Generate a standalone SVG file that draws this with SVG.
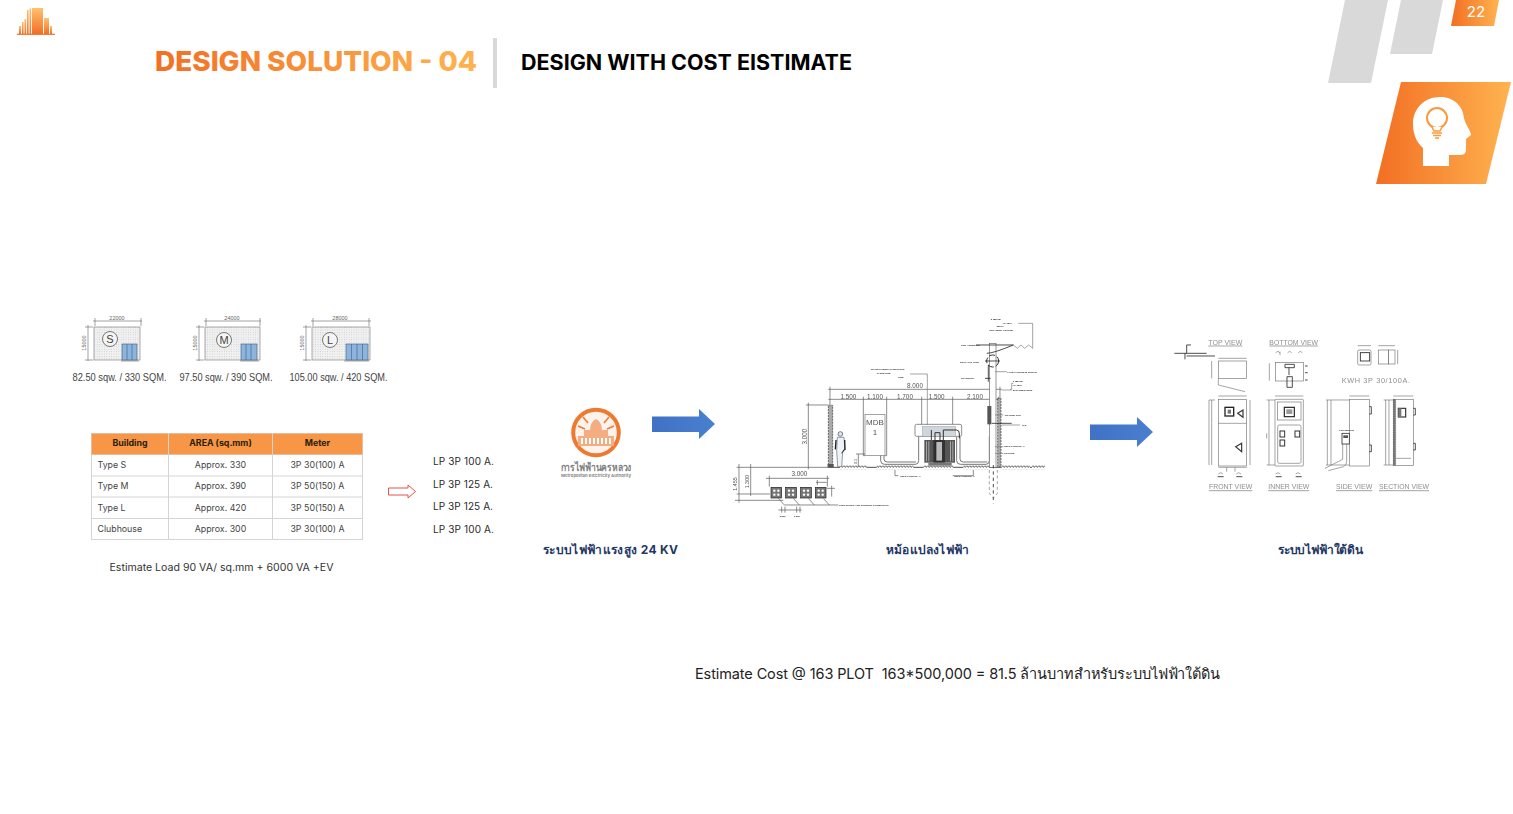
<svg xmlns="http://www.w3.org/2000/svg" width="1513" height="814" viewBox="0 0 1513 814">
<style>
text{font-family:Inter,"Noto Sans","Noto Sans CJK SC",sans-serif;white-space:pre}
.lp{font-size:10px;fill:#2a2a2a}
.tb{font-size:8.800px;fill:#444}
.th{font-size:8.800px;font-weight:700;fill:#2a2008}
.cap{font-size:12px;font-weight:700;fill:#1f3864;text-anchor:middle}
.mid{text-anchor:middle}
.plan{font-family:"Liberation Sans",sans-serif;font-size:11px;fill:#444}
.dim{font-family:"Liberation Sans",sans-serif;font-size:5.500px;fill:#666;text-anchor:middle}
.ln{fill:none;stroke:#666;stroke-width:.6}
.d{fill:none;stroke:#555;stroke-width:2}
.k{fill:none;stroke:#222;stroke-width:2.400}
.g{fill:none;stroke:#777;stroke-width:2}
.dt{font-family:"Liberation Sans",sans-serif;font-size:19px;fill:#555;text-anchor:middle}
.dk{font-family:"Liberation Sans",sans-serif;font-size:7px;font-weight:700;fill:#222}
.v{font-family:"Liberation Sans",sans-serif;font-size:22px;fill:#8e8e8e}
.cell{fill:#fff;stroke:#d4d4d4;stroke-width:1}
</style>
<defs>
<linearGradient id="go" x1="0" x2="1" y1="0" y2="0"><stop offset="0" stop-color="#f26f23"/><stop offset="1" stop-color="#ffb350"/></linearGradient>
<linearGradient id="gv" x1="0" x2="0" y1="1" y2="0"><stop offset="0" stop-color="#f26f23"/><stop offset="1" stop-color="#ffc070"/></linearGradient>
<linearGradient id="gt" gradientUnits="userSpaceOnUse" x1="155" x2="477" y1="0" y2="0"><stop offset="0" stop-color="#f26f23"/><stop offset="1" stop-color="#ffb350"/></linearGradient>
<linearGradient id="gb" x1="0" x2="1" y1="0" y2="0"><stop offset="0" stop-color="#3f72c4"/><stop offset="1" stop-color="#4a7fd0"/></linearGradient>
<pattern id="dots" width="2.400" height="2.400" patternUnits="userSpaceOnUse"><rect width="2.400" height="2.400" fill="#f1f1f1"/><circle cx="1.200" cy="1.200" r=".5" fill="#c4c8cc"/></pattern>
<pattern id="hatch" width="9" height="14" patternUnits="userSpaceOnUse"><path d="M0 4 L4 10 L9 4" fill="none" stroke="#333" stroke-width="2.500"/></pattern>
<filter id="soft" x="-5%" y="-5%" width="110%" height="110%"><feGaussianBlur stdDeviation=".35"/></filter>
<g id="box4"><rect width="32" height="32" fill="#777" stroke="#222" stroke-width="2"/><g fill="#fff"><circle cx="10" cy="10" r="3.600"/><circle cx="22" cy="10" r="3.600"/><circle cx="10" cy="22" r="3.600"/><circle cx="22" cy="22" r="3.600"/></g></g>
</defs>

<g id="logo">
<rect x="17" y="33.700" width="38" height="1.200" fill="#f26f23"/>
<g fill="url(#gv)">
<rect x="19" y="26" width="2" height="8"/><rect x="22" y="22" width="1.600" height="12"/><rect x="24.500" y="19" width="1.600" height="15"/><rect x="27" y="10" width="1.600" height="24"/><rect x="29.500" y="8.500" width="1.600" height="25.500"/><rect x="32" y="8" width="11" height="26"/><rect x="44" y="18" width="5" height="16"/><rect x="50" y="26" width="2" height="8"/>
</g>
</g>

<g id="header">
<text x="155" y="70.500" font-size="27.500" font-weight="800" fill="url(#gt)" textLength="322" lengthAdjust="spacingAndGlyphs">DESIGN SOLUTION - 04</text>
<rect x="493" y="38" width="4" height="50" fill="#d9d9d9"/>
<text x="521" y="69.500" font-size="21" font-weight="700" fill="#000" textLength="331" lengthAdjust="spacingAndGlyphs">DESIGN WITH COST EISTIMATE</text>
</g>

<g id="corner">
<polygon points="1345,0 1388,0 1371,83 1328,83" fill="#d9d9d9"/>
<polygon points="1401,0 1443,0 1432,54 1390,54" fill="#d9d9d9"/>
<polygon points="1456,0 1499,0 1494,26 1451,26" fill="url(#go)"/>
<text x="1476" y="17" font-size="15" fill="#fff" class="mid">22</text>
<polygon points="1401,82 1511,82 1486,184 1376,184" fill="url(#go)"/>
<path d="M1423 166V148C1416 142 1413 133 1413 124C1413 108 1425 97 1440 97C1455 97 1463 107 1464 118C1465 124 1471 131 1471 135L1466 139V150Q1466 155 1460 155H1449V166Z" fill="#fff"/>
<circle cx="1437" cy="118" r="10" fill="none" stroke="#fa9a3f" stroke-width="2"/>
<path d="M1432 127L1434 131H1440L1442 127" fill="#fff" stroke="#fa9a3f" stroke-width="1.500"/>
<path d="M1432 133H1442M1433 135.500H1441M1435 138H1439" stroke="#fa9a3f" stroke-width="1.500"/>
</g>

<g id="plan-s">
<rect x="94" y="327" width="46" height="33" fill="url(#dots)" stroke="#888" stroke-width=".7"/>
<path class="ln" d="M93 321H142M95 318V326M141 318V326M88 325V361M85 327H93M85 360H93M121 361H139"/>
<rect x="122" y="344" width="15" height="16" fill="#8db4dc" stroke="#4a6a8a" stroke-width=".7"/><path d="M127 344V360M132 344V360" stroke="#4a6a8a" stroke-width=".7"/>
<circle cx="110" cy="339" r="7.500" fill="#f4f4f4" stroke="#444" stroke-width=".7"/>
<text x="110" y="343" class="plan mid">S</text>
<text x="117" y="320" class="dim">22000</text><text class="dim" transform="translate(86 343) rotate(-90)">15000</text>
<text x="72.500" y="380.500" class="plan" textLength="94" lengthAdjust="spacingAndGlyphs">82.50 sqw. / 330 SQM.</text>
</g>
<g id="plan-m">
<rect x="205" y="327" width="55" height="33" fill="url(#dots)" stroke="#888" stroke-width=".7"/>
<path class="ln" d="M204 321H261M206 318V326M260 318V326M199 325V361M196 327H204M196 360H204M240 361H259"/>
<rect x="241" y="344" width="16" height="16" fill="#8db4dc" stroke="#4a6a8a" stroke-width=".7"/><path d="M246 344V360M251 344V360" stroke="#4a6a8a" stroke-width=".7"/>
<circle cx="224" cy="340" r="7.500" fill="#f4f4f4" stroke="#444" stroke-width=".7"/>
<text x="224" y="344" class="plan mid">M</text>
<text x="232" y="320" class="dim">24000</text><text class="dim" transform="translate(197 343) rotate(-90)">15000</text>
<text x="179.500" y="380.500" class="plan" textLength="93" lengthAdjust="spacingAndGlyphs">97.50 sqw. / 390 SQM.</text>
</g>
<g id="plan-l">
<rect x="312" y="327" width="58" height="33" fill="url(#dots)" stroke="#888" stroke-width=".7"/>
<path class="ln" d="M311 321H371M313 318V326M369 318V326M306 325V361M303 327H311M303 360H311M344 361H369"/>
<rect x="346" y="344" width="22" height="16" fill="#8db4dc" stroke="#4a6a8a" stroke-width=".7"/><path d="M351.500 344V360M357 344V360M362.500 344V360" stroke="#4a6a8a" stroke-width=".7"/>
<circle cx="330" cy="340" r="7.500" fill="#f4f4f4" stroke="#444" stroke-width=".7"/>
<text x="330" y="344" class="plan mid">L</text>
<text x="340" y="320" class="dim">28000</text><text class="dim" transform="translate(304 343) rotate(-90)">15000</text>
<text x="289.500" y="380.500" class="plan" textLength="98" lengthAdjust="spacingAndGlyphs">105.00 sqw. / 420 SQM.</text>
</g>

<g id="load-table">
<rect x="91.500" y="433.500" width="271" height="106" class="cell"/>
<rect x="91.500" y="433.500" width="271" height="21" fill="#f79646" stroke="#e0c0a0" stroke-width="1"/>
<path d="M91.500 476H362.500M91.500 497H362.500M91.500 518.500H362.500M168.500 433.500V539.500M272.500 433.500V539.500" stroke="#d4d4d4" fill="none"/>
<text x="130" y="446" class="th mid">Building</text><text x="220.500" y="446" class="th mid">AREA (sq.mm)</text><text x="317.500" y="446" class="th mid">Meter</text>
<text x="97.500" y="468" class="tb">Type S</text><text x="220.500" y="468" class="tb mid">Approx. 330</text><text x="317.500" y="468" class="tb mid">3P 30(100) A</text>
<text x="97.500" y="489" class="tb">Type M</text><text x="220.500" y="489" class="tb mid">Approx. 390</text><text x="317.500" y="489" class="tb mid">3P 50(150) A</text>
<text x="97.500" y="510.500" class="tb">Type L</text><text x="220.500" y="510.500" class="tb mid">Approx. 420</text><text x="317.500" y="510.500" class="tb mid">3P 50(150) A</text>
<text x="97.500" y="531.500" class="tb">Clubhouse</text><text x="220.500" y="531.500" class="tb mid">Approx. 300</text><text x="317.500" y="531.500" class="tb mid">3P 30(100) A</text>
<text x="109.500" y="571" font-size="10" fill="#333" textLength="224" lengthAdjust="spacingAndGlyphs">Estimate Load 90 VA/ sq.mm + 6000 VA +EV</text>
</g>

<g id="connectors">
<polygon points="388.500,488 408,488 408,485 415.500,491.500 408,498 408,495 388.500,495" fill="#fff" stroke="#e8504a" stroke-width="1"/>
<polygon points="652,416.500 699,416.500 699,409 715,424 699,439 699,432 652,432" fill="url(#gb)"/>
<polygon points="1090,424.500 1137,424.500 1137,417 1153,432 1137,447 1137,440 1090,440" fill="url(#gb)"/>
</g>

<g id="lp-list">
<text x="433" y="465" class="lp" textLength="61" lengthAdjust="spacing">LP 3P 100 A.</text>
<text x="433" y="488" class="lp" textLength="60" lengthAdjust="spacing">LP 3P 125 A.</text>
<text x="433" y="510" class="lp" textLength="60" lengthAdjust="spacing">LP 3P 125 A.</text>
<text x="433" y="533" class="lp" textLength="61" lengthAdjust="spacing">LP 3P 100 A.</text>
</g>

<g id="mea">
<circle cx="596" cy="432.500" r="22.800" fill="#fdf3ec" stroke="#ee7a30" stroke-width="4"/>
<g fill="#f3ad80"><rect x="578" y="436" width="36" height="10"/><rect x="584" y="430" width="24" height="6"/><path d="M590 430Q590 422 596 419Q602 422 602 430Z"/></g>
<path d="M583 417L588 423M609 417L604 423M578 426L585 429M614 426L607 429" stroke="#ee7a30" stroke-width="1.600"/>
<g fill="#fff"><rect x="581" y="438" width="2" height="6"/><rect x="585" y="438" width="2" height="6"/><rect x="589" y="438" width="2" height="6"/><rect x="593" y="438" width="2" height="6"/><rect x="597" y="438" width="2" height="6"/><rect x="601" y="438" width="2" height="6"/><rect x="605" y="438" width="2" height="6"/><rect x="609" y="438" width="2" height="6"/></g>
<text x="596" y="471" font-size="10.500" font-weight="700" fill="#808080" class="mid" textLength="71" lengthAdjust="spacingAndGlyphs">การไฟฟ้านครหลวง</text>
<text x="596" y="476.500" font-size="3.800" font-weight="700" fill="#888" class="mid" textLength="70" lengthAdjust="spacingAndGlyphs">Metropolitan Electricity Authority</text>
</g>

<g id="transformer-drawing" transform="translate(730 310) scale(.33333)" filter="url(#soft)">
<path d="M295 472H330M410 472H440M550 472H580M670 472H700M780 472H815M900 472H906" class="k"/>
<rect x="330" y="466" width="80" height="14" fill="url(#hatch)"/><rect x="440" y="466" width="110" height="14" fill="url(#hatch)"/><rect x="580" y="466" width="90" height="14" fill="url(#hatch)"/><rect x="700" y="466" width="80" height="14" fill="url(#hatch)"/><rect x="815" y="466" width="85" height="14" fill="url(#hatch)"/><rect x="906" y="466" width="40" height="14" fill="url(#hatch)"/>
<path class="d" d="M20 472H295M295 238H815M300 230V285M810 230V270M295 268H810M400 260V300M470 260V300M575 260V345M668 260V345M805 260V300"/>
<text x="555" y="233" class="dt">8.000</text>
<text x="355" y="266" class="dt">1.500</text><text x="435" y="266" class="dt">1.100</text><text x="525" y="266" class="dt">1.700</text><text x="620" y="266" class="dt">1.500</text><text x="735" y="266" class="dt">2.100</text>
<path class="d" d="M228 285H295M235 278V478"/>
<text class="dt" transform="translate(230 380) rotate(-90)">3.000</text>
<rect x="295" y="285" width="13" height="185" fill="#aaa" stroke="#333" stroke-width="2" stroke-dasharray="6 3"/>
<rect x="292" y="462" width="19" height="10" fill="#555"/>
<rect x="405" y="313" width="60" height="124" fill="#fff" stroke="#777" stroke-width="2"/>
<path class="d" d="M400 300V437H405M470 300V437H465M385 432V470M378 432H405"/>
<text x="435" y="346" class="dt" style="font-size:24px">MDB</text><text x="435" y="376" class="dt" style="font-size:24px">1</text>
<text class="dt" style="font-size:11px" transform="translate(382 454) rotate(-90)">0.5</text>
<g id="person"><circle cx="331" cy="372" r="7" fill="#dde6ee" stroke="#445" stroke-width="2"/><path d="M322 382H342L345 420L338 428L335 470H323L320 420Z" fill="#eef3f8" stroke="#667" stroke-width="2"/><path d="M318 390L316 418M344 390L345 420" stroke="#222" stroke-width="4" fill="none"/><path d="M335 430L343 418" stroke="#222" stroke-width="3"/></g>
<path class="g" style="stroke-width:3px" d="M452 437V452Q452 463 464 463H556Q566 463 566 452V380M462 437V447Q462 456 472 456H558"/>
<path class="g" style="stroke-width:3px" d="M680 380V452Q680 463 692 463H768Q778 463 778 452V380M690 380V447Q690 456 700 456H772"/>
<rect x="555" y="343" width="140" height="36" rx="5" fill="#fff" stroke="#777" stroke-width="2.500"/>
<rect x="577" y="349" width="100" height="30" fill="#cfd6dc" stroke="#888"/>
<path d="M592 225V345M540 192H592V225" class="g"/>
<rect x="583" y="390" width="92" height="68" fill="#555"/>
<g fill="#aaa"><rect x="588" y="394" width="3" height="60"/><rect x="595" y="394" width="3" height="60"/><rect x="660" y="394" width="3" height="60"/><rect x="667" y="394" width="3" height="60"/></g>
<rect x="610" y="390" width="35" height="68" fill="#333"/><rect x="618" y="395" width="19" height="58" fill="#bbb" stroke="#222" stroke-width="2"/>
<rect x="595" y="458" width="70" height="9" fill="#777"/>
<path d="M604 390V360M615 390V368H630V390M640 390V360H680Q688 360 688 372V385" fill="none" stroke="#333" stroke-width="3"/>
<rect x="778" y="100" width="20" height="372" fill="#fff" stroke="#666" stroke-width="2"/>
<rect x="772" y="288" width="12" height="55" fill="#555"/>
<rect x="803" y="265" width="10" height="205" fill="#aaa" stroke="#333" stroke-width="2" stroke-dasharray="6 3"/>
<path class="k" d="M790 465V580" stroke-dasharray="10 9"/>
<path class="g" d="M778 480V550L790 565L802 550V480" stroke-dasharray="9 8"/>
<circle cx="788" cy="153" r="18" fill="none" stroke="#333" stroke-width="3" stroke-dasharray="18 6"/>
<path class="k" d="M765 153H810M738 105H850M770 130Q790 130 850 105M765 205H782M775 165V215"/>
<path class="g" d="M850 105L862 115L873 105L884 115L896 105L908 115M908 40V115M865 40H908M840 238H845V220H850M815 240H845M815 345H870"/>
<path d="M785 340H845" class="k"/>
<path class="g" d="M795 185H830M795 315H820M795 410H820M795 430H820"/>
<text x="782" y="30" class="dk">3-185 SQ.</text><text x="818" y="42" class="dk">HV 15kV</text><text x="800" y="52" class="dk">MESH</text><text x="778" y="62" class="dk">STRANDED GROUND</text>
<text x="693" y="108" class="dk">LINK ARRESTER</text><text x="690" y="160" class="dk">DROP OUT FUSE</text><text x="693" y="208" class="dk">TRANSFER</text>
<text x="832" y="188" class="dk">POLE CONCRETE 12.20 M.</text>
<text x="848" y="217" class="dk">3-185 SQ.</text><text x="848" y="228" class="dk">HV 15kV</text><text x="848" y="244" class="dk">STRANDED WIRE</text>
<text x="824" y="318" class="dk">GROUND ROD</text><text x="876" y="347" class="dk">R=5</text><text x="822" y="411" class="dk">HDPE CONDUIT 4"</text><text x="822" y="432" class="dk">GROUND</text>
<text x="422" y="181" class="dk">TRANSFORMER CONDUCTOR</text><text x="440" y="192" class="dk">CABLE SIZE</text><text x="505" y="205" class="dk">SIZE</text>
<text x="510" y="500" class="dk">HDPE CONDUIT 4"</text><text x="672" y="500" class="dk">HDPE CONDUIT 4"</text>
<path class="d" d="M495 480V497H505M730 480V497H668"/>
<text x="328" y="587" class="dk">ELECTRONIC AND CURRENT CONNECTION</text>
<use href="#box4" x="123" y="532"/><use href="#box4" x="167" y="532"/><use href="#box4" x="212" y="532"/><use href="#box4" x="256" y="532"/>
<path class="d" d="M108 505H298M118 497V530M292 497V530M258 517H290M262 510V525"/>
<text x="208" y="499" class="dt">3.000</text>
<path class="d" d="M20 552H120M15 571H160M27 462V578M62 462V558M290 535H315M305 527V560"/>
<text class="dt" transform="translate(56 515) rotate(-90)" style="font-size:16px">1.300</text>
<text class="dt" transform="translate(20 522) rotate(-90)" style="font-size:16px">1.455</text>
<path class="d" d="M145 565L163 585H325M190 565L208 585M235 565L253 585M280 565L298 585M155 590V608M165 590V608M200 590V608M210 590V608M145 600H215"/>
<text x="149" y="621" class="dk">0.200</text><text x="192" y="621" class="dk">0.200</text>
</g>

<g id="meter-drawing" transform="translate(1165 330) scale(.33333)" filter="url(#soft)">
<text x="130" y="44" class="v" textLength="102" lengthAdjust="spacingAndGlyphs">TOP VIEW</text><path class="g" d="M130 48H232"/>
<text x="313" y="44" class="v" textLength="146" lengthAdjust="spacingAndGlyphs">BOTTOM VIEW</text><path class="g" d="M313 48H459"/>
<text x="530" y="158" class="v" textLength="205" lengthAdjust="spacing">KWH 3P 30/100A.</text>
<text x="132" y="477" class="v" textLength="130" lengthAdjust="spacingAndGlyphs">FRONT VIEW</text><path class="g" d="M132 482H262"/>
<text x="310" y="477" class="v" textLength="123" lengthAdjust="spacingAndGlyphs">INNER VIEW</text><path class="g" d="M310 482H433"/>
<text x="513" y="477" class="v" textLength="109" lengthAdjust="spacingAndGlyphs">SIDE VIEW</text><path class="g" d="M513 482H622"/>
<text x="642" y="477" class="v" textLength="150" lengthAdjust="spacingAndGlyphs">SECTION VIEW</text><path class="g" d="M642 482H792"/>
<path class="k" d="M65 70V45H78M28 70H125M65 78H150M60 70V88"/>
<rect x="160" y="93" width="85" height="52" class="g"/><path class="g" d="M160 165L240 185M160 85H245M140 93V145M160 145V165"/>
<rect x="332" y="98" width="83" height="55" class="g"/><path class="g" d="M332 68Q338 60 345 68M368 68Q374 60 380 68M400 68Q406 60 412 68M345 75V65M313 100V152"/>
<path class="k" d="M360 103H388V113H360ZM372 113V135M366 140H382V172H366ZM420 108H428M420 128H428M420 150H428"/>
<rect x="160" y="208" width="85" height="200" class="g"/>
<path class="g" d="M160 280H245M160 198H245M132 210H150M132 210V405M140 210V280M140 280V405M255 210V405M160 412H245M185 412V425M210 412V425"/>
<rect x="180" y="232" width="26" height="26" fill="none" stroke="#222" stroke-width="4"/><rect x="188" y="239" width="10" height="12" fill="#777"/>
<path d="M218 250L234 240V262Z M212 350L230 340V365Z" fill="none" stroke="#333" stroke-width="3.500"/>
<rect x="330" y="208" width="85" height="200" rx="2" class="g"/>
<rect x="338" y="216" width="70" height="54" class="g"/><rect x="358" y="232" width="30" height="28" fill="none" stroke="#222" stroke-width="3.500"/><rect x="364" y="238" width="18" height="14" fill="#999"/>
<rect x="338" y="285" width="70" height="115" rx="5" class="g"/>
<rect x="345" y="303" width="14" height="18" fill="none" stroke="#333" stroke-width="3"/><rect x="345" y="330" width="14" height="18" fill="none" stroke="#333" stroke-width="3"/><rect x="390" y="303" width="14" height="18" fill="none" stroke="#333" stroke-width="3"/>
<path class="g" d="M312 210V405M305 210H330M305 405H330M305 310V325M330 198H415"/>
<rect x="553" y="208" width="60" height="200" class="g"/>
<path class="g" d="M487 210V405M498 210V405M483 210H553M483 405H553M553 198H613M545 342V395Q545 405 535 410L490 422M533 342V388L480 415"/>
<path class="k" d="M613 230H619V252H613M613 345H619V365H613"/>
<rect x="531" y="310" width="22" height="32" fill="#fff" stroke="#333" stroke-width="2.500"/><rect x="535" y="316" width="14" height="8" fill="#555"/>
<text x="522" y="304" class="dk">CTR SENSOR</text>
<rect x="685" y="208" width="60" height="198" class="g"/>
<rect x="685" y="208" width="7" height="198" fill="#777" stroke="#333" stroke-dasharray="4 3"/>
<path class="g" d="M662 210V405M672 210V405M656 210H685M656 405H685M685 198H745M692 385H738"/>
<path class="k" d="M745 235H751V255H745M745 340H751V360H745"/>
<rect x="700" y="235" width="22" height="26" fill="none" stroke="#333" stroke-width="3.500"/><rect x="700" y="235" width="9" height="26" fill="#777"/>
<rect x="578" y="60" width="40" height="45" rx="4" class="g"/><rect x="586" y="68" width="28" height="25" fill="none" stroke="#222" stroke-width="2.500"/>
<rect x="640" y="60" width="30" height="42" class="g"/><rect x="670" y="60" width="20" height="42" class="g"/>
<path class="g" d="M578 47H618M640 47H690M698 60V102"/>
<path class="g" d="M160 432Q167 424 174 432M214 432Q221 424 228 432M332 432Q339 424 346 432M392 432Q399 424 406 432"/>
<path class="k" d="M158 440H176M214 440H232M332 440H350M392 440H410"/>
</g>

<g id="captions">
<text x="610.500" y="554" class="cap" textLength="135" lengthAdjust="spacing">ระบบไฟฟ้าแรงสูง 24 KV</text>
<text x="927.500" y="554" class="cap" textLength="83" lengthAdjust="spacing">หม้อแปลงไฟฟ้า</text>
<text x="1320.500" y="554" class="cap" textLength="85" lengthAdjust="spacing">ระบบไฟฟ้าใต้ดิน</text>
<text x="695" y="679" font-size="14.500" fill="#222" textLength="525" lengthAdjust="spacing">Estimate Cost @ 163 PLOT  163*500,000 = 81.5 ล้านบาทสำหรับระบบไฟฟ้าใต้ดิน</text>
</g>
</svg>
